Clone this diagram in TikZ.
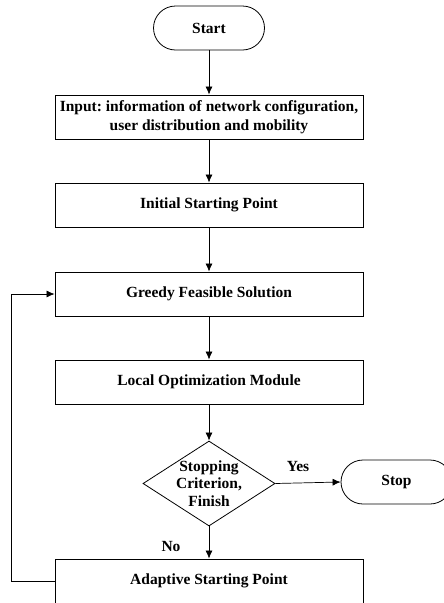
\documentclass[tikz,border=0pt]{standalone}
\usepackage{fontspec}
\setmainfont{Liberation Serif}
\usetikzlibrary{arrows.meta,shapes.geometric}
\begin{document}
\frenchspacing
\begin{tikzpicture}[x=1pt,y=-1pt,
  font=\bfseries\fontsize{15.5}{18}\selectfont,
  box/.style={draw,line width=0.8pt,rectangle,minimum width=308pt,minimum height=44pt,inner sep=0pt,align=center},
  term/.style={draw,line width=0.8pt,rectangle,rounded corners=22pt,minimum width=111pt,minimum height=44pt,inner sep=0pt},
  decision/.style={draw,line width=0.8pt,diamond,minimum width=132pt,minimum height=85pt,inner sep=0pt},
  flow/.style={line width=0.7pt,-{Latex[length=8pt,width=7pt]}},
  lbl/.style={inner sep=0pt,align=center}]
\clip (0,0) rectangle (444,603);
\fill[white] (0,0) rectangle (444,603);
\node[term] (start) at (209,28) {Start};
\node[box,font=\bfseries\fontsize{15.5}{19}\selectfont] (input) at (209,117) {Input: information of network configuration,\\user distribution and mobility};
\node[box] (init) at (209,205) {Initial Starting Point};
\node[box] (greedy) at (209,294) {Greedy Feasible Solution};
\node[box] (local) at (209,382) {Local Optimization Module};
\node[decision] (dec) at (209,483.5) {};
\node[lbl,font=\bfseries\fontsize{15.5}{17.5}\selectfont] (dectext) at (209,483.5) {Stopping\\Criterion,\\Finish};
\node[term] (stop) at (396.5,482) {Stop};
\node[box] (adapt) at (209,581) {Adaptive Starting Point};
\node[lbl] (yes) at (298,466) {Yes};
\node[lbl] (no) at (171,546) {No};
\coordinate (c1) at (11,581);
\coordinate (c2) at (11,294);
\draw[flow] (start) -- (input);
\draw[flow] (input) -- (init);
\draw[flow] (init) -- (greedy);
\draw[flow] (greedy) -- (local);
\draw[flow] (local) -- (dec.north);
\draw[flow] (dec.east) -- (stop.west);
\draw[flow] (dec.south) -- (adapt);
\draw[flow] (adapt.west) -- (c1) -- (c2) -- (greedy.west);
\end{tikzpicture}
\end{document}
